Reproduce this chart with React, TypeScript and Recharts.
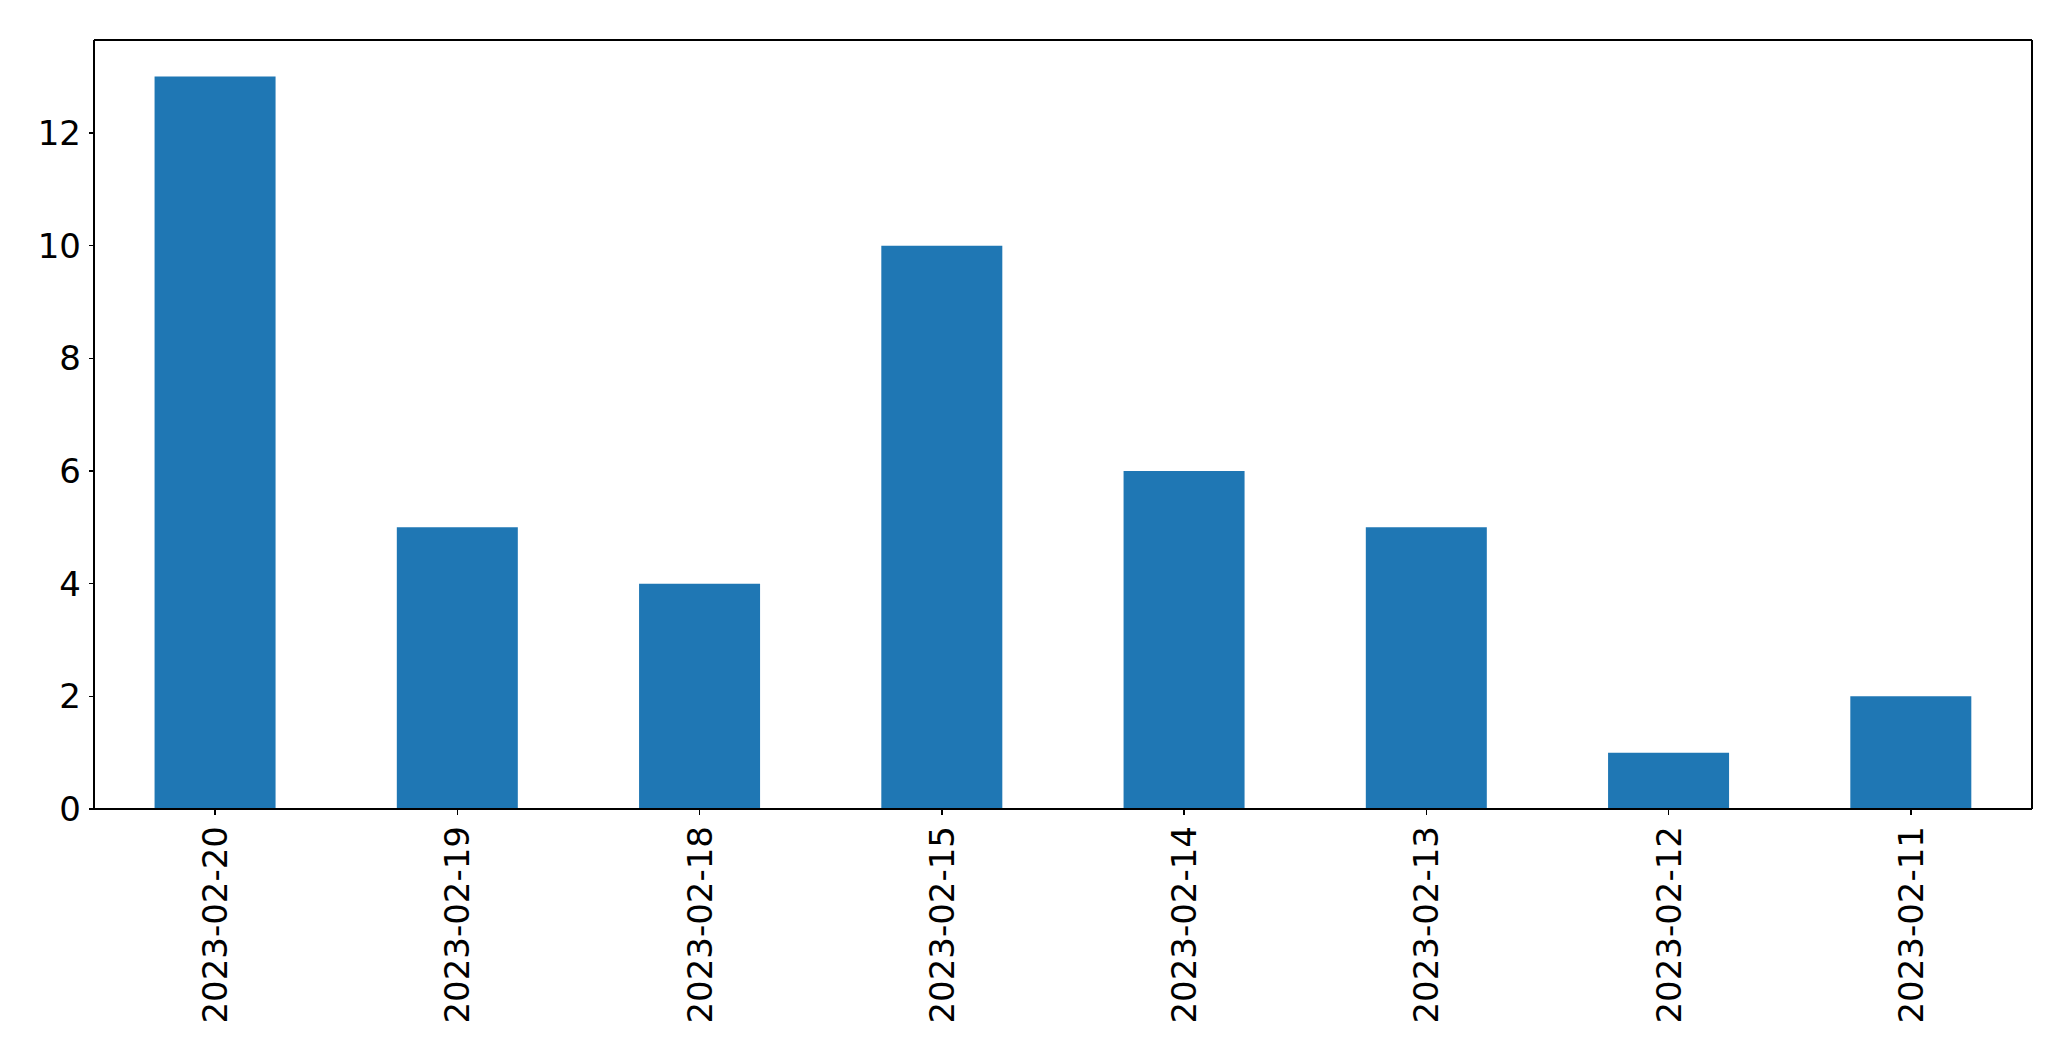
import React from "react";
import { BarChart, Bar, XAxis, YAxis } from "recharts";

const dates = [
  "2023-02-20",
  "2023-02-19",
  "2023-02-18",
  "2023-02-15",
  "2023-02-14",
  "2023-02-13",
  "2023-02-12",
  "2023-02-11",
];
const counts = [13, 5, 4, 10, 6, 5, 1, 2];
const yTicks = [0, 2, 4, 6, 8, 10, 12];

const data = dates.map((d, i) => ({ date: d, count: counts[i] }));

const FONT = "'DejaVu Sans', sans-serif";
const FS = 34;
const LINE = { stroke: "#000", strokeWidth: 1.4, shapeRendering: "crispEdges" } as any;

const XTick = (props: any) => {
  const { x, y, payload } = props;
  return (
    <text
      x={x}
      y={y}
      transform={`rotate(-90, ${x}, ${y})`}
      textAnchor="end"
      dominantBaseline="central"
      fontFamily={FONT}
      fontSize={FS}
      fill="#000"
    >
      {payload.value}
    </text>
  );
};

const YTick = (props: any) => {
  const { x, y, payload } = props;
  return (
    <text
      x={x}
      y={y}
      textAnchor="end"
      dominantBaseline="central"
      fontFamily={FONT}
      fontSize={FS}
      fill="#000"
    >
      {payload.value}
    </text>
  );
};

export default function App() {
  return (
    <div style={{ position: "absolute", left: 0, top: 0, background: "#fff" }}>
      <BarChart
        width={2071}
        height={1061}
        data={data}
        margin={{ top: 39, right: 38, left: 0, bottom: 0 }}
        barCategoryGap="25%"
      >
        <XAxis
          dataKey="date"
          xAxisId="bottom"
          height={252}
          interval={0}
          tick={<XTick />}
          tickSize={6}
          tickMargin={11}
          stroke="#000"
          axisLine={LINE}
          tickLine={LINE}
        />
        <XAxis
          dataKey="date"
          xAxisId="top"
          orientation="top"
          height={1}
          tick={false}
          tickLine={false}
          stroke="#000"
          axisLine={LINE}
        />
        <YAxis
          yAxisId="left"
          width={94}
          domain={[0, 13.65]}
          ticks={yTicks}
          tickSize={5}
          tickMargin={8}
          allowDataOverflow
          tick={<YTick />}
          stroke="#000"
          axisLine={LINE}
          tickLine={LINE}
        />
        <YAxis
          yAxisId="right"
          orientation="right"
          width={1}
          domain={[0, 13.65]}
          tick={false}
          tickLine={false}
          stroke="#000"
          axisLine={LINE}
        />
        <Bar
          dataKey="count"
          xAxisId="bottom"
          yAxisId="left"
          fill="#1f77b4"
          isAnimationActive={false}
        />
      </BarChart>
    </div>
  );
}
